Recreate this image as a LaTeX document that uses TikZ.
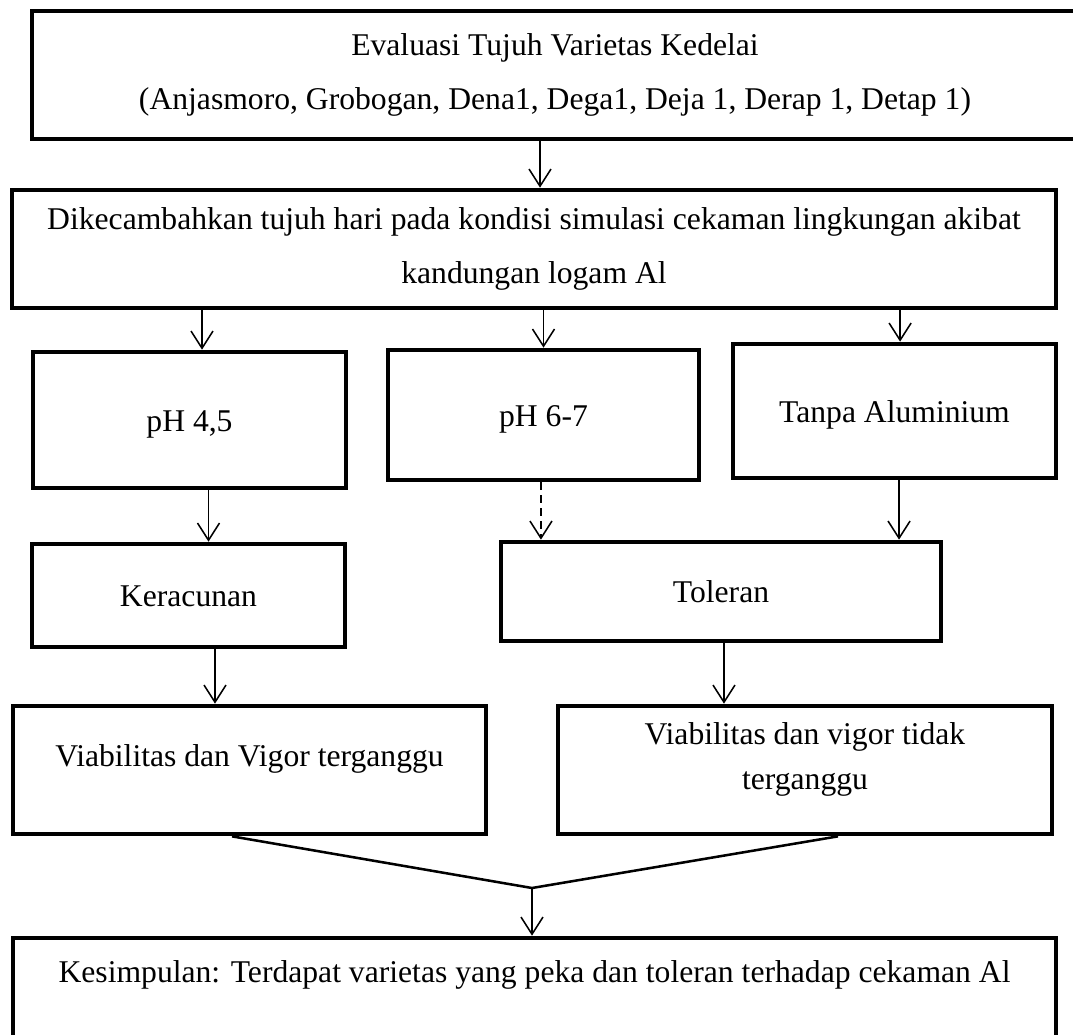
\documentclass[tikz,border=0pt]{standalone}
\usepackage{fontspec}
\setmainfont{Liberation Serif}
\usetikzlibrary{arrows.meta}
\tikzset{
    block/.style = {
        draw,
        line width = 3.3pt,
        inner sep = 0pt,
        align = center,
        font = \fontsize{22.5pt}{38pt}\selectfont,
    },
    oneline/.style = {
        text height = 0.57cm,
        text depth = 0cm,
    },
    arr/.style = {
        -{Straight Barb[length=0.43cm,width=0.55cm]},
        line width = 1.1pt,
    },
    merge/.style = {
        line width = 1.8pt,
    }
}

\begin{document}
\begin{tikzpicture}[x=0.025cm,y=-0.025cm]
    \useasboundingbox (0,0) rectangle (1073,1034);
    \clip (0,0) rectangle (1073,1034);

    \node[block, minimum width=26.15cm, minimum height=3.2cm] (Evaluasi) at (555,75) {Evaluasi Tujuh Varietas Kedelai\\(Anjasmoro, Grobogan, Dena1, Dega1, Deja 1, Derap 1, Detap 1)};
    \node[block, minimum width=26.1cm, minimum height=2.95cm] (Kecambah) at (534,249) {Dikecambahkan tujuh hari pada kondisi simulasi cekaman lingkungan akibat\\kandungan logam Al};

    \node[block, oneline, minimum width=7.825cm, minimum height=3.4cm] (PhAsam) at (189.5,420) {pH 4,5};
    \node[block, oneline, minimum width=7.775cm, minimum height=3.25cm] (PhNetral) at (543.5,415) {pH 6-7};
    \node[block, oneline, minimum width=8.075cm, minimum height=3.35cm] (TanpaAl) at (894.5,411) {Tanpa Aluminium};

    \node[block, oneline, minimum width=7.825cm, minimum height=2.575cm] (Keracunan) at (188.5,595.5) {Keracunan};
    \node[block, oneline, minimum width=11cm, minimum height=2.475cm] (Toleran) at (721,591.5) {Toleran};

    \node[block, oneline, text depth=0.77cm, minimum width=11.825cm, minimum height=3.2cm] (ViabTerganggu) at (249.5,770) {Viabilitas dan Vigor terganggu};
    \node[block, text height=0.95cm, text depth=0cm, font=\fontsize{22.5pt}{32pt}\selectfont, minimum width=12.35cm, minimum height=3.2cm] (ViabBaik) at (805,770) {Viabilitas dan vigor tidak\\terganggu};

    \node[block, oneline, text depth=1.045cm, minimum width=26.075cm, minimum height=2.675cm] (Kesimpulan) at (534.5,991.5) {Kesimpulan: Terdapat varietas yang peka dan toleran terhadap cekaman Al};

    \coordinate (Gabung) at (532,888);

    \draw[arr] ([xshift=0.15cm]Kecambah.north |- Evaluasi.south) to ([xshift=0.15cm]Kecambah.north);

    \draw[arr] ([xshift=0.3125cm]PhAsam.north |- Kecambah.south) to ([xshift=0.3125cm]PhAsam.north);
    \draw[arr] (PhNetral.north |- Kecambah.south) to (PhNetral.north);
    \draw[arr] ([xshift=0.14cm]TanpaAl.north |- Kecambah.south) to ([xshift=0.14cm]TanpaAl.north);

    \draw[arr] ([xshift=0.5cm]Keracunan.north |- PhAsam.south) to ([xshift=0.5cm]Keracunan.north);
    \draw[arr, dash pattern=on 0.2cm off 0.125cm] ([xshift=-4.5cm]Toleran.north |- PhNetral.south) to ([xshift=-4.5cm]Toleran.north);
    \draw[arr] ([xshift=4.45cm]Toleran.north |- TanpaAl.south) to ([xshift=4.45cm]Toleran.north);

    \draw[arr] ([xshift=-0.8625cm]ViabTerganggu.north |- Keracunan.south) to ([xshift=-0.8625cm]ViabTerganggu.north);
    \draw[arr] ([xshift=-2.025cm]ViabBaik.north |- Toleran.south) to ([xshift=-2.025cm]ViabBaik.north);

    \draw[merge] ([xshift=-0.4375cm]ViabTerganggu.south) -- (Gabung) -- ([xshift=0.825cm]ViabBaik.south);
    \draw[arr] (Gabung) to (Gabung |- Kesimpulan.north);

\end{tikzpicture}
\end{document}
